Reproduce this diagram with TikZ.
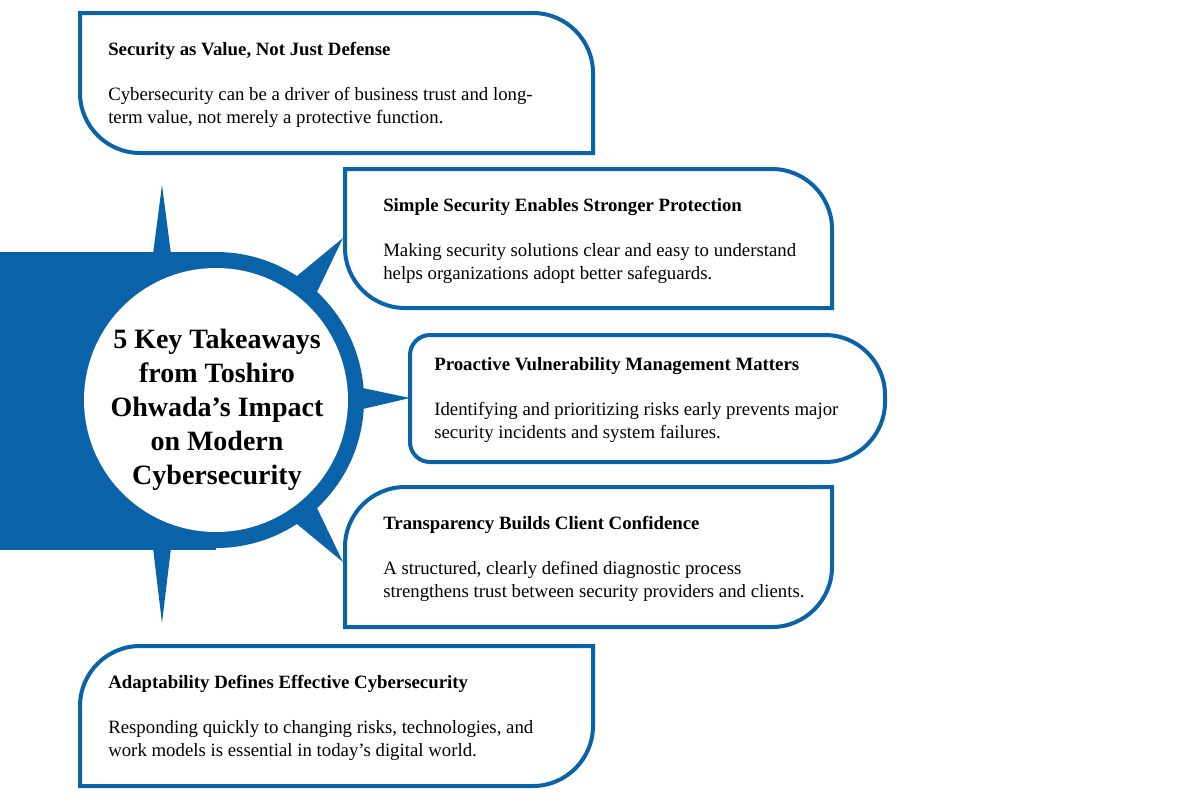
\documentclass[tikz,border=0pt]{standalone}
\usepackage{fontspec}
\setmainfont{Liberation Serif}
\usetikzlibrary{calc}
\definecolor{blu}{HTML}{0A62A8}
\begin{document}
\begin{tikzpicture}[x=0.75pt,y=-0.75pt,
  box/.style={draw=blu,line width=3pt,fill=white},
  ttl/.style={anchor=base west,inner sep=0pt,font=\fontsize{14.1}{17}\selectfont\bfseries},
  bdy/.style={anchor=base west,inner sep=0pt,align=left,font=\fontsize{14.1}{17.25}\selectfont}]
\useasboundingbox (0,0) rectangle (1200,800);
% boxes
\draw[box] (80,13) -- (533,13) .. controls (566,13) and (593,40) .. (593,73) -- (593,153) -- (140,153) .. controls (107,153) and (80,126) .. (80,93) -- cycle;
\draw[box] (345,169) -- (772,169) .. controls (805,169) and (832,196) .. (832,229) -- (832,308) -- (405,308) .. controls (372,308) and (345,281) .. (345,248) -- cycle;
\draw[box] (430,335) -- (825,335) .. controls (858,335) and (885,362) .. (885,395) -- (885,402) .. controls (885,435) and (858,462) .. (825,462) -- (430,462) .. controls (419,462) and (410,453) .. (410,442) -- (410,355) .. controls (410,344) and (419,335) .. (430,335) -- cycle;
\draw[box] (405,487) -- (832,487) -- (832,567) .. controls (832,600) and (805,627) .. (772,627) -- (345,627) -- (345,547) .. controls (345,514) and (372,487) .. (405,487) -- cycle;
\draw[box] (140,646) -- (593,646) -- (593,726) .. controls (593,759) and (566,786) .. (533,786) -- (80,786) -- (80,706) .. controls (80,673) and (107,646) .. (140,646) -- cycle;
% hub
\coordinate (c) at (216,400);
\coordinate (t1) at (343,238);
\coordinate (t2) at (410,398);
\coordinate (t3) at (343,562);
\fill[blu] (0,252) rectangle (216,550);
\fill[blu] (c) circle[radius=148*0.75pt];
\fill[blu] (153,254) -- (162,185) -- (171,254) -- cycle;
\fill[blu] (153,548) -- (162,623) -- (171,548) -- cycle;
\fill[blu] ($(c)!0.68!6:(t1)$) -- (t1) -- ($(c)!0.68!-6:(t1)$) -- cycle;
\fill[blu] ($(c)!0.72!5:(t2)$) -- (t2) -- ($(c)!0.72!-5:(t2)$) -- cycle;
\fill[blu] ($(c)!0.68!6:(t3)$) -- (t3) -- ($(c)!0.68!-6:(t3)$) -- cycle;
\fill[white] (c) circle[radius=132*0.75pt];
\node[align=center,font=\fontsize{21}{25.5}\selectfont\bfseries] (hub) at (217,410) {5 Key Takeaways\\from Toshiro\\Ohwada’s Impact\\on Modern\\Cybersecurity};
% texts
\node[ttl] (h1) at (108,55) {Security as Value, Not Just Defense};
\node[bdy] (b1) at (108,123) {Cybersecurity can be a driver of business trust and long-\\term value, not merely a protective function.};
\node[ttl] (h2) at (383,211) {Simple Security Enables Stronger Protection};
\node[bdy] (b2) at (383,279) {Making security solutions clear and easy to understand\\helps organizations adopt better safeguards.};
\node[ttl] (h3) at (434,370) {Proactive Vulnerability Management Matters};
\node[bdy] (b3) at (434,438) {Identifying and prioritizing risks early prevents major\\security incidents and system failures.};
\node[ttl] (h4) at (383,529) {Transparency Builds Client Confidence};
\node[bdy] (b4) at (383,597) {A structured, clearly defined diagnostic process\\strengthens trust between security providers and clients.};
\node[ttl] (h5) at (108,688) {Adaptability Defines Effective Cybersecurity};
\node[bdy] (b5) at (108,756) {Responding quickly to changing risks, technologies, and\\work models is essential in today’s digital world.};
\end{tikzpicture}
\end{document}
